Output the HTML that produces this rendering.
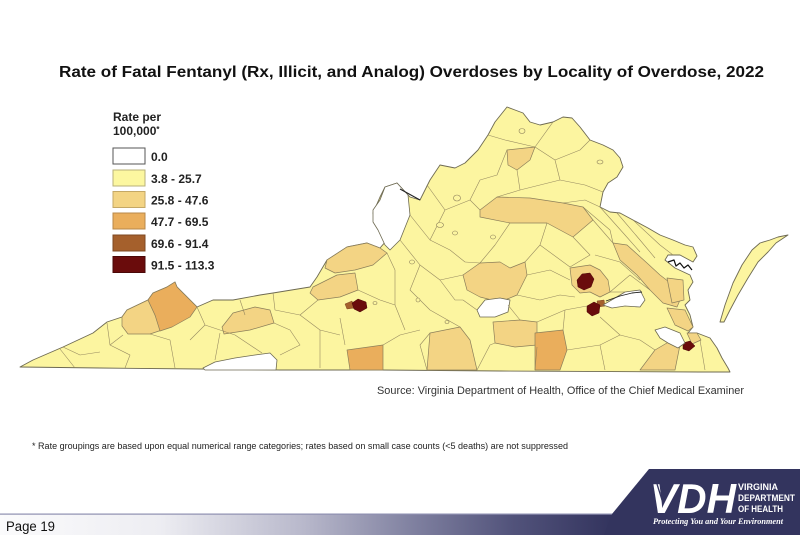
<!DOCTYPE html>
<html>
<head>
<meta charset="utf-8">
<style>
html,body{margin:0;padding:0;background:#fff;}
svg{display:block;}
</style>
</head>
<body>
<svg width="800" height="535" viewBox="0 0 800 535" xmlns="http://www.w3.org/2000/svg">
<defs>
<linearGradient id="bar" x1="0" y1="0" x2="1" y2="0">
<stop offset="0" stop-color="#fbfbfc"/>
<stop offset="0.2" stop-color="#ededf2"/>
<stop offset="0.38" stop-color="#b8b8cb"/>
<stop offset="0.51" stop-color="#8283a2"/>
<stop offset="0.64" stop-color="#52537b"/>
<stop offset="0.76" stop-color="#34355f"/>
<stop offset="1" stop-color="#33345e"/>
</linearGradient>
</defs>
<rect width="800" height="535" fill="#fff"/>

<!-- Title -->
<text x="59" y="77" font-family="Liberation Sans, Arial, sans-serif" font-weight="bold" font-size="16" fill="#111" textLength="705" lengthAdjust="spacingAndGlyphs">Rate of Fatal Fentanyl (Rx, Illicit, and Analog) Overdoses by Locality of Overdose, 2022</text>

<!-- Legend -->
<g font-family="Liberation Sans, Arial, sans-serif" font-weight="bold" font-size="12" fill="#222">
<text x="113" y="121">Rate per</text>
<text x="113" y="135">100,000<tspan font-size="8" dy="-3">*</tspan></text>
<rect x="113" y="148" width="32" height="16" fill="#fff" stroke="#555" stroke-width="1"/>
<rect x="113" y="170" width="32" height="16" fill="#fcf7a0" stroke="#b8b27a" stroke-width="1"/>
<rect x="113" y="191.5" width="32" height="16" fill="#f3d484" stroke="#c4a866" stroke-width="1"/>
<rect x="113" y="213" width="32" height="16" fill="#eaae5c" stroke="#b8884a" stroke-width="1"/>
<rect x="113" y="235" width="32" height="16" fill="#a5602c" stroke="#7e4822" stroke-width="1"/>
<rect x="113" y="256.5" width="32" height="16" fill="#6a0c0c" stroke="#4a0808" stroke-width="1"/>
<text x="151" y="161">0.0</text>
<text x="151" y="183">3.8 - 25.7</text>
<text x="151" y="204.5">25.8 - 47.6</text>
<text x="151" y="226">47.7 - 69.5</text>
<text x="151" y="248">69.6 - 91.4</text>
<text x="151" y="269.5">91.5 - 113.3</text>
</g>

<!-- Map: state fill -->
<g stroke-linejoin="round">
<path d="M20,367 L33,360 L63,347 L93,333 L107,322 L122,317 L127,310 L148,300 L153,293 L167,287 L175,282 L177,287 L197,307 L213,300 L233,300 L260,295 L273,293 L310,287 L317,277 L327,260 L347,247 L367,243 L380,248 L387,240 L377,227 L373,213 L380,197 L385,187 L397,183 L410,197 L420,200 L425,190 L430,180 L440,165 L455,168 L465,163 L478,150 L488,135 L495,122 L507,107 L515,110 L523,113 L530,122 L540,125 L553,122 L563,117 L572,118 L580,127 L590,140 L603,145 L613,150 L620,158 L623,167 L617,177 L608,183 L603,192 L600,207 L610,212 L620,213 L633,220 L648,228 L660,235 L673,240 L685,245 L693,247 L697,256 L693,262 L680,255 L668,255 L665,260 L675,268 L690,275 L693,282 L688,290 L690,300 L685,305 L690,315 L693,327 L688,333 L697,333 L710,338 L717,348 L722,358 L728,368 L730,372 L700,372 L500,371 L380,370 L280,370 L200,369 L100,368 Z" fill="#fcf5a0" stroke="#6e6a52" stroke-width="0.9"/>

<!-- Eastern shore -->
<path d="M720,322 L725,305 L733,283 L742,265 L752,250 L760,243 L770,240 L778,237 L788,235 L776,243 L768,252 L758,262 L748,278 L738,295 L730,310 L724,322 Z" fill="#fcf5a0" stroke="#6e6a52" stroke-width="0.9"/>

<!-- Tan counties (25.8-47.6) -->
<g fill="#f3d484" stroke="#8c7f5a" stroke-width="0.7">
<path d="M122,317 L127,310 L148,300 L155,315 L162,330 L150,334 L128,334 L122,326 Z"/>
<path d="M222,327 L233,313 L255,307 L270,310 L274,323 L250,330 L224,334 Z"/>
<path d="M327,260 L347,247 L367,243 L380,248 L387,253 L373,265 L355,270 L335,273 L325,268 Z"/>
<path d="M313,287 L337,275 L355,273 L358,290 L340,297 L318,300 L310,293 Z"/>
<path d="M507,150 L535,147 L530,160 L517,170 L508,165 Z"/>
<path d="M480,210 L497,197 L530,198 L563,203 L583,207 L593,220 L573,237 L547,223 L510,223 L480,217 Z"/>
<path d="M613,243 L627,245 L647,263 L660,275 L673,285 L680,300 L677,307 L663,303 L650,290 L637,275 L620,260 Z"/>
<path d="M667,278 L683,280 L684,300 L672,303 Z"/>
<path d="M667,308 L685,310 L693,327 L688,331 L675,325 Z"/>
<path d="M570,268 L590,265 L600,270 L608,280 L610,292 L600,297 L590,292 L580,293 L572,285 Z"/>
<path d="M463,275 L480,263 L500,262 L510,268 L525,262 L527,275 L517,295 L500,302 L480,297 L467,290 Z"/>
<path d="M493,322 L520,320 L537,322 L537,345 L515,347 L495,343 Z"/>
<path d="M430,333 L460,327 L470,340 L477,370 L427,370 Z"/>
<path d="M640,370 L655,350 L672,340 L680,345 L675,370 Z"/>
<path d="M687,333 L697,333 L701,340 L692,344 Z"/>
</g>

<!-- Orange counties (47.7-69.5) -->
<g fill="#eaae5c" stroke="#8c7f5a" stroke-width="0.7">
<path d="M148,300 L153,293 L167,287 L175,282 L177,287 L197,307 L190,317 L172,327 L160,331 L155,315 Z"/>
<path d="M347,350 L383,345 L383,370 L350,370 Z"/>
<path d="M535,333 L563,330 L567,350 L560,370 L535,370 Z"/>
</g>

<!-- Brown -->
<g fill="#a5602c" stroke="#7e4822" stroke-width="0.5">
<path d="M345,304 L352,301 L354,308 L347,309 Z"/>
<path d="M597,301 L604,300 L605,306 L598,307 Z"/>
</g>

<!-- Dark red -->
<g fill="#6a0c0c" stroke="#4a0808" stroke-width="0.5">
<path d="M352,303 L358,299 L366,302 L367,308 L360,312 L354,309 Z"/>
<path d="M577,280 L582,274 L590,273 L594,279 L591,287 L584,290 L578,287 Z"/>
<path d="M587,306 L594,302 L600,305 L599,313 L592,316 L587,312 Z"/>
<path d="M683,343 L690,341 L695,346 L689,351 L683,349 Z"/>
</g>

<!-- White (0.0) counties and water -->
<g fill="#ffffff" stroke="#6e6a52" stroke-width="0.8">
<path d="M385,187 L397,183 L408,195 L410,215 L400,240 L390,250 L385,245 L378,230 L373,222 L373,210 L380,200 Z"/>
<path d="M203,368 L215,362 L235,358 L255,355 L270,353 L277,360 L276,370 L205,370 Z"/>
<path d="M477,310 L485,300 L500,298 L510,300 L508,312 L495,317 L480,317 Z"/>
<path d="M603,305 L615,298 L625,292 L640,290 L645,300 L640,307 L625,306 L612,308 Z"/>
<path d="M655,330 L665,327 L680,333 L685,343 L678,348 L668,343 L660,338 Z"/>
</g>
<path d="M400,189 L420,200" stroke="#222" stroke-width="1" fill="none"/>
<path d="M606,301 L620,296 L632,293 L642,292" stroke="#222" stroke-width="0.9" fill="none"/>
<path d="M668,262 L674,260 L676,266 L680,263 L684,268 L688,265 L692,270" stroke="#111" stroke-width="1.2" fill="none"/>

<!-- County lines -->
<g fill="none" stroke="#8c7f5a" stroke-width="0.6" opacity="0.9">
<path d="M60,349 L75,368"/>
<path d="M107,323 L110,345 L130,355 L125,368"/>
<path d="M150,334 L170,340 L175,368"/>
<path d="M123,335 L110,345"/>
<path d="M197,307 L205,325 L190,340"/>
<path d="M205,325 L235,335 L250,345 L262,353"/>
<path d="M220,333 L215,360"/>
<path d="M274,323 L290,330 L300,345 L280,355"/>
<path d="M273,293 L275,310 L300,315 L318,300"/>
<path d="M300,315 L320,330 L340,335"/>
<path d="M320,330 L320,368"/>
<path d="M340,318 L345,345"/>
<path d="M358,290 L380,300 L395,305"/>
<path d="M383,345 L400,335 L420,330"/>
<path d="M387,253 L395,270 L395,305 L405,330"/>
<path d="M410,215 L430,240 L450,250 L465,262"/>
<path d="M400,240 L420,265 L440,280 L463,275"/>
<path d="M420,265 L410,290 L430,310"/>
<path d="M430,310 L460,327"/>
<path d="M463,300 L477,310"/>
<path d="M427,185 L445,210 L470,200 L480,210"/>
<path d="M445,210 L430,240"/>
<path d="M470,200 L480,180 L497,175 L507,150"/>
<path d="M488,135 L505,140 L535,147"/>
<path d="M535,147 L553,122"/>
<path d="M535,147 L555,160 L580,150 L590,140"/>
<path d="M555,160 L560,180 L585,185 L603,192"/>
<path d="M517,170 L520,190 L497,197"/>
<path d="M520,190 L560,180"/>
<path d="M563,203 L585,200 L600,207"/>
<path d="M593,220 L613,243"/>
<path d="M573,237 L590,255 L570,267"/>
<path d="M547,223 L540,245 L525,262"/>
<path d="M510,223 L495,245 L480,263"/>
<path d="M465,262 L480,263"/>
<path d="M527,275 L550,270 L570,280"/>
<path d="M540,245 L570,267"/>
<path d="M517,295 L540,300 L560,295 L575,297"/>
<path d="M508,305 L520,320"/>
<path d="M537,322 L565,310 L587,306"/>
<path d="M565,310 L563,330"/>
<path d="M567,350 L600,345 L620,335 L640,340"/>
<path d="M600,317 L620,335"/>
<path d="M610,292 L625,292"/>
<path d="M583,207 L610,230 L613,243"/>
<path d="M600,345 L605,370"/>
<path d="M477,370 L490,345 L495,343"/>
<path d="M537,347 L535,370"/>
<path d="M427,370 L420,345 L430,333"/>
<path d="M440,280 L455,300 L463,300"/>
<path d="M633,220 L660,245 L673,255"/>
<path d="M617,213 L640,240 L655,258"/>
<path d="M600,207 L625,235 L640,252"/>
<path d="M595,255 L620,262 L640,280"/>
<path d="M610,292 L630,275 L650,290"/>
<path d="M640,340 L655,350"/>
<path d="M700,340 L705,370"/>
<path d="M240,300 L245,315"/>
<path d="M63,347 L80,355 L100,352"/>
</g>

<!-- small independent city outlines -->
<g fill="#fcf5a0" stroke="#8c7f5a" stroke-width="0.6">
<ellipse cx="522" cy="131" rx="3" ry="2.5"/>
<ellipse cx="600" cy="162" rx="3" ry="2"/>
<ellipse cx="457" cy="198" rx="3.5" ry="3"/>
<ellipse cx="440" cy="225" rx="3.5" ry="2.5"/>
<ellipse cx="455" cy="233" rx="2.5" ry="2"/>
<ellipse cx="493" cy="237" rx="2.5" ry="2"/>
<ellipse cx="412" cy="262" rx="2.5" ry="2"/>
<ellipse cx="375" cy="303" rx="2" ry="1.5"/>
<ellipse cx="447" cy="322" rx="2" ry="1.5"/>
<ellipse cx="418" cy="300" rx="2" ry="2"/>
</g>
</g>

<!-- Source -->
<text x="377" y="394" font-family="Liberation Sans, Arial, sans-serif" font-size="11" fill="#333" textLength="367" lengthAdjust="spacingAndGlyphs">Source: Virginia Department of Health, Office of the Chief Medical Examiner</text>

<!-- Footnote -->
<text x="32" y="449" font-family="Liberation Sans, Arial, sans-serif" font-size="9" fill="#222" textLength="536" lengthAdjust="spacingAndGlyphs">* Rate groupings are based upon equal numerical range categories; rates based on small case counts (&lt;5 deaths) are not suppressed</text>

<!-- Footer bar -->
<rect x="0" y="514" width="800" height="21" fill="url(#bar)"/>
<rect x="0" y="513.5" width="620" height="1.2" fill="#8e8fb0"/>
<polygon points="649,469 800,469 800,535 604,535 612,514" fill="#33345e"/>
<text x="6" y="531" font-family="Liberation Sans, Arial, sans-serif" font-size="13.5" fill="#111" textLength="49" lengthAdjust="spacingAndGlyphs">Page 19</text>

<!-- VDH logo -->
<text x="650" y="513" font-family="Liberation Sans, Arial, sans-serif" font-weight="bold" font-style="italic" font-size="42" fill="#fff" textLength="86" lengthAdjust="spacingAndGlyphs">VDH</text>
<g stroke="#33345e" stroke-width="1.3">
<line x1="657" y1="484" x2="662" y2="500"/>
<line x1="661" y1="484" x2="665" y2="497"/>
</g>
<g font-family="Liberation Sans, Arial, sans-serif" font-weight="bold" font-size="9.5" fill="#fff">
<text x="738" y="490" textLength="40" lengthAdjust="spacingAndGlyphs">VIRGINIA</text>
<text x="738" y="501" textLength="57" lengthAdjust="spacingAndGlyphs">DEPARTMENT</text>
<text x="738" y="512" textLength="45" lengthAdjust="spacingAndGlyphs">OF HEALTH</text>
</g>
<text x="653" y="524" font-family="Liberation Serif, Times New Roman, serif" font-weight="bold" font-style="italic" font-size="8.5" fill="#fff" textLength="130" lengthAdjust="spacingAndGlyphs">Protecting You and Your Environment</text>
</svg>
</body>
</html>
